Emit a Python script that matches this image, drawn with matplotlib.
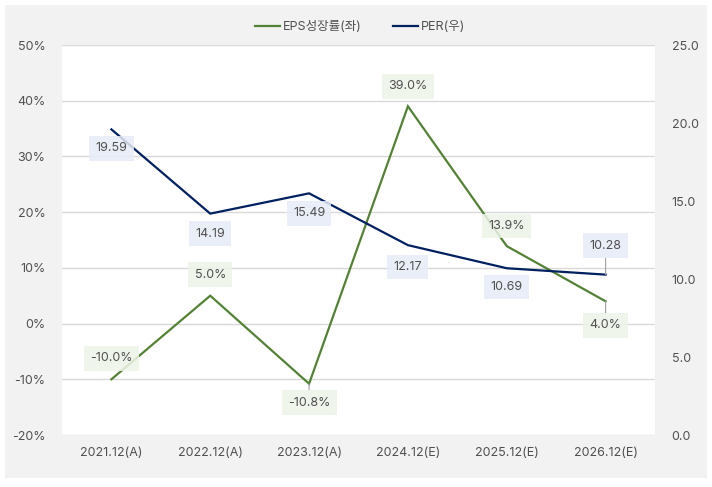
import matplotlib
matplotlib.use("Agg")
import matplotlib.pyplot as plt
from matplotlib.patches import Rectangle
from matplotlib.lines import Line2D

plt.rcParams['font.family'] = ['Inter', 'Noto Sans CJK KR', 'DejaVu Sans']

categories = ["2021.12(A)", "2022.12(A)", "2023.12(A)", "2024.12(E)", "2025.12(E)", "2026.12(E)"]
eps_growth = [-10.0, 5.0, -10.8, 39.0, 13.9, 4.0]
per = [19.59, 14.19, 15.49, 12.17, 10.69, 10.28]
eps_labels = ["-10.0%", "5.0%", "-10.8%", "39.0%", "13.9%", "4.0%"]
per_labels = ["19.59", "14.19", "15.49", "12.17", "10.69", "10.28"]
left_ticks = [-20, -10, 0, 10, 20, 30, 40, 50]
right_ticks = [0, 5, 10, 15, 20, 25]

# label offsets in pixels (positive = up) and leader-line flags
eps_off = [21, 21, -19, 20, 20, -24]
eps_leader = [False, False, True, False, False, True]
per_off = [-19, -20, -20, -22, -19, 29]
per_leader = [False, False, False, False, False, True]

GREEN = "#548235"
NAVY = "#002060"
TXT = "#505050"
W, H = 712, 487

fig = plt.figure(figsize=(W / 100, H / 100), dpi=100)
fig.patch.set_facecolor("white")
fig.patches.append(Rectangle((5 / W, 9 / H), 702 / W, 473 / H, transform=fig.transFigure,
                             facecolor="#f2f2f2", edgecolor="none", zorder=-10))

ax = fig.add_axes([62 / W, 52 / H, 593 / W, 390 / H])
ax.set_facecolor("white")
ax2 = ax.twinx()

x = list(range(len(categories)))
ax.plot(x, eps_growth, color=GREEN, lw=1.6, zorder=3, solid_joinstyle="miter")
ax2.plot(x, per, color=NAVY, lw=1.6, zorder=3, solid_joinstyle="miter")

ax.set_xlim(-0.5, len(categories) - 0.5)
ax.set_ylim(-20, 50)
ax.set_yticks(left_ticks)
ax.set_yticklabels([f"{t}%" for t in left_ticks])
ax2.set_ylim(0, 25)
ax2.set_yticks(right_ticks)
ax2.set_yticklabels([f"{t:.1f}" for t in right_ticks])
ax.set_xticks(x)
ax.set_xticklabels(categories)

ax.grid(axis="y", color="#d9d9d9", lw=1)
ax.set_axisbelow(True)
for a in (ax, ax2):
    for s in a.spines.values():
        s.set_visible(False)
    a.tick_params(length=0, labelsize=9, colors=TXT)
ax.tick_params(axis="y", pad=12)
ax2.tick_params(axis="y", pad=12)
ax.tick_params(axis="x", pad=9)


def add_labels(a, ys, labels, offs, leaders, fc):
    for xi, yi, lab, off, ld in zip(x, ys, labels, offs, leaders):
        kw = {}
        if ld:
            kw["arrowprops"] = dict(arrowstyle="-", color="#a0a0a0", lw=0.8, shrinkA=0, shrinkB=0)
        a.annotate(lab, (xi, yi), xytext=(0, off * 0.72), textcoords="offset points",
                   ha="center", va="center", fontsize=9, color=TXT, zorder=5,
                   bbox=dict(boxstyle="square,pad=0.5", fc=fc, ec="none", alpha=0.85), **kw)


add_labels(ax, eps_growth, eps_labels, eps_off, eps_leader, "#edf4e8")
add_labels(ax2, per, per_labels, per_off, per_leader, "#e7ecf7")

handles = [Line2D([], [], color=GREEN, lw=1.6), Line2D([], [], color=NAVY, lw=1.6)]
fig.legend(handles, ["EPS성장률(좌)", "PER(우)"], loc="center", bbox_to_anchor=(360 / W, 1 - 27 / H),
           ncol=2, frameon=False, fontsize=9, handlelength=2.0, handletextpad=0.2,
           columnspacing=2.5, labelcolor=TXT)

fig.savefig("out.png", dpi=100, facecolor="white")
